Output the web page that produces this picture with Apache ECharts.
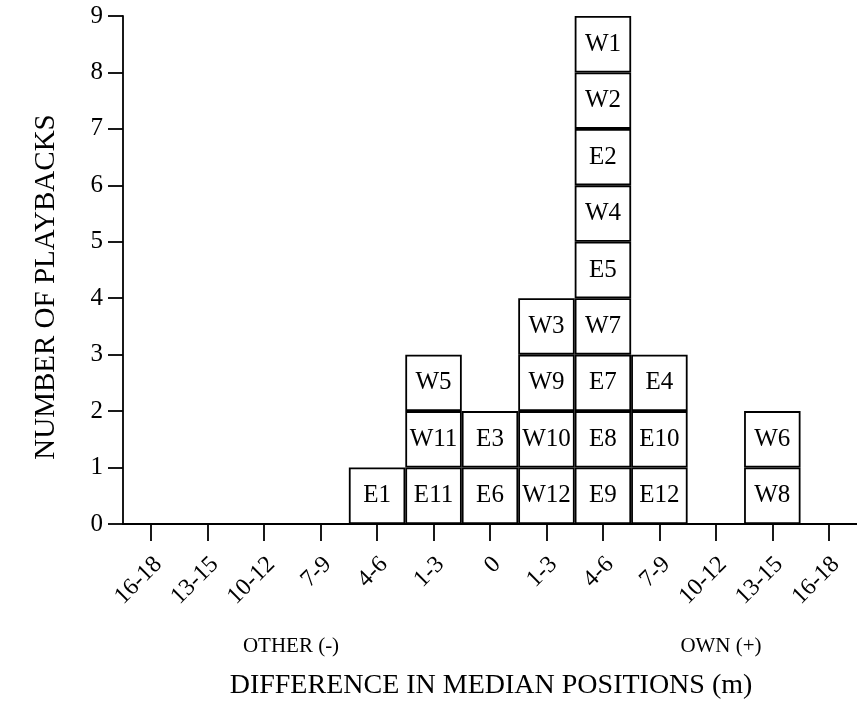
<!DOCTYPE html>
<html>
<head>
<meta charset="utf-8">
<script src="https://cdn.jsdelivr.net/npm/echarts@6/dist/echarts.min.js"></script>
<style>
html,body{margin:0;padding:0;background:#fff;}
#chart{width:857px;height:702px;}
</style>
</head>
<body>
<div id="chart"></div>
<script>
// Category tick labels (left side = OTHER (-), right side = OWN (+))
const categories = ['16-18','13-15','10-12','7-9','4-6','1-3','0','1-3','4-6','7-9','10-12','13-15','16-18'];
// Box labels in each category, listed from bottom to top
const boxes4to6Other = ['E1'];
const boxes1to3Other = ['E11','W11','W5'];
const boxesZero = ['E6','E3'];
const boxes1to3Own = ['W12','W10','W9','W3'];
const boxes4to6Own = ['E9','E8','E7','W7','E5','W4','E2','W2','W1'];
const boxes7to9Own = ['E12','E10','E4'];
const boxes13to15Own = ['W8','W6'];
const stacks = [[],[],[],[],boxes4to6Other,boxes1to3Other,boxesZero,boxes1to3Own,boxes4to6Own,boxes7to9Own,[],boxes13to15Own,[]];
const yTicks = [0,1,2,3,4,5,6,7,8,9];

const serif = '"Liberation Serif","DejaVu Serif",serif';
const maxLevel = Math.max(...stacks.map(s => s.length));
const series = [];
for (let lv = 0; lv < maxLevel; lv++) {
  series.push({
    type: 'bar',
    stack: 'boxes',
    barCategoryGap: '0%',
    barWidth: '100%',
    itemStyle: {color: '#fff', borderColor: '#000', borderWidth: 1.8},
    label: {show: true, position: 'inside', color: '#000', fontFamily: serif, fontSize: 25,
            formatter: p => p.data && p.data.boxLabel ? p.data.boxLabel : ''},
    data: stacks.map(s => s.length > lv ? {value: 1, boxLabel: s[lv]} : '-'),
    silent: true,
    animation: false
  });
}

const chart = echarts.init(document.getElementById('chart'));
chart.setOption({
  backgroundColor: '#fff',
  animation: false,
  grid: {left: 123, top: 16, width: 736, height: 508},
  xAxis: {
    type: 'category',
    data: categories,
    axisLine: {show: true, lineStyle: {color: '#000', width: 1.8}},
    axisTick: {show: true, alignWithLabel: true, interval: 0, length: 17, lineStyle: {color: '#000', width: 1.8}},
    axisLabel: {rotate: 45, fontFamily: serif, fontSize: 24, color: '#000', margin: 44,
                padding: [0, -10, 0, 0], interval: 0},
    splitLine: {show: false}
  },
  yAxis: {
    type: 'value',
    min: 0, max: 9, interval: 1,
    axisLine: {show: true, lineStyle: {color: '#000', width: 1.8}},
    axisTick: {show: true, length: 15, lineStyle: {color: '#000', width: 1.8}},
    axisLabel: {fontFamily: serif, fontSize: 25, color: '#000', margin: 20,
                formatter: v => yTicks.includes(v) ? String(v) : ''},
    splitLine: {show: false}
  },
  graphic: [
    {type: 'text', x: 46, y: 287, rotation: Math.PI / 2,
     style: {text: 'NUMBER OF PLAYBACKS', font: '29px ' + serif, fill: '#000', align: 'center', verticalAlign: 'middle'}},
    {type: 'text', x: 491, y: 686,
     style: {text: 'DIFFERENCE IN MEDIAN POSITIONS (m)', font: '28px ' + serif, fill: '#000', align: 'center', verticalAlign: 'middle'}},
    {type: 'text', x: 291, y: 646,
     style: {text: 'OTHER (-)', font: '21px ' + serif, fill: '#000', align: 'center', verticalAlign: 'middle'}},
    {type: 'text', x: 721, y: 646,
     style: {text: 'OWN (+)', font: '21px ' + serif, fill: '#000', align: 'center', verticalAlign: 'middle'}}
  ],
  series: series
});
</script>
</body>
</html>
